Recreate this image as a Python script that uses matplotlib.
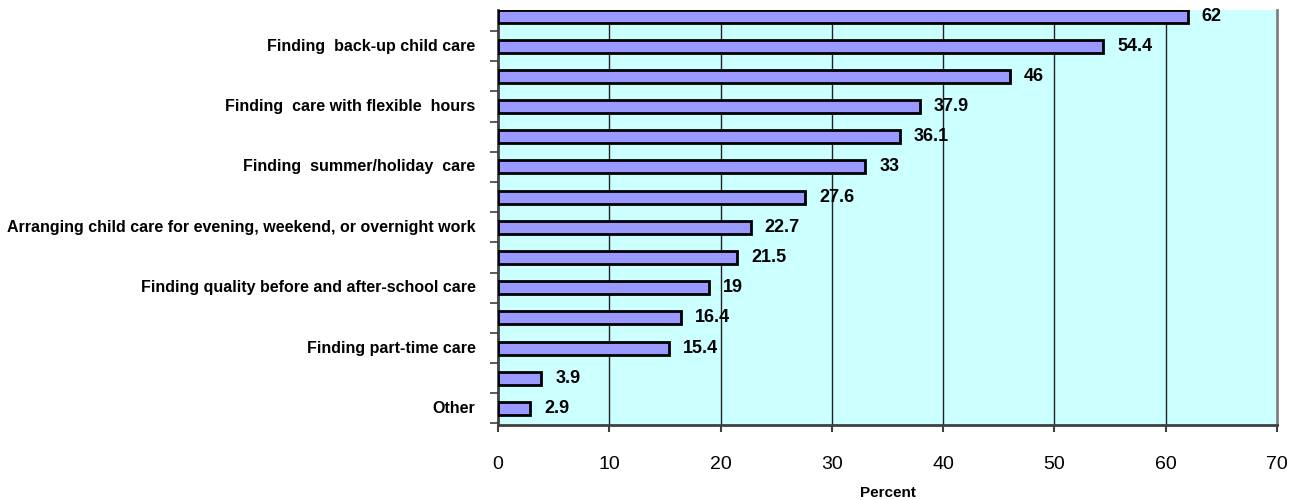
import matplotlib
matplotlib.use("Agg")
import matplotlib.pyplot as plt
import numpy as np

# data, bottom to top
labels = ["Other", "", "Finding part-time care", "",
          "Finding quality before and after-school care", "",
          "Arranging child care for evening, weekend, or overnight work", "",
          "Finding  summer/holiday  care", "",
          "Finding  care with flexible  hours", "",
          "Finding  back-up child care", ""]
values = [2.9, 3.9, 15.4, 16.4, 19, 21.5, 22.7, 27.6, 33, 36.1, 37.9, 46, 54.4, 62]
value_text = ["2.9", "3.9", "15.4", "16.4", "19", "21.5", "22.7", "27.6", "33",
              "36.1", "37.9", "46", "54.4", "62"]
x_ticks = [0, 10, 20, 30, 40, 50, 60, 70]

plt.rcParams['font.family'] = ['Liberation Sans', 'DejaVu Sans']

fig = plt.figure(figsize=(13.03, 5.0), dpi=100)
ax = fig.add_axes([498 / 1303, 75 / 500, 779 / 1303, 415 / 500])
ax.set_facecolor('#CCFFFF')

pos = np.arange(len(values))
ax.barh(pos, values, height=0.43, color='#9999FF', edgecolor='black',
        linewidth=2, zorder=3)

for p, v, t in zip(pos, values, value_text):
    ax.annotate(t, (v, p), xytext=(10, 0), textcoords='offset points',
                va='center', ha='left', fontsize=13, fontweight='bold', zorder=4)

ax.set_xlim(0, 70)
ax.set_ylim(-0.55, 13.2)
ax.set_xticks(x_ticks)
ax.set_xticklabels([str(t) for t in x_ticks], fontsize=14)
ax.tick_params(axis='x', length=5, width=1.5, color='#404040', pad=17)

# category boundaries get the tick marks, labels sit on the bars
ax.set_yticks(np.arange(-0.5, 13.5, 1.0))
ax.set_yticklabels([])
ax.tick_params(axis='y', length=6, width=1.2, color='#404040')
for p, lab in zip(pos, labels):
    if lab:
        ax.text(-0.029, p, lab, transform=ax.get_yaxis_transform(),
                ha='right', va='center', fontsize=11.5, fontweight='bold',
                family=['Liberation Sans Narrow', 'Liberation Sans'])

for x in x_ticks[1:-1]:
    ax.axvline(x, color='#222222', linewidth=1.0, zorder=1)

ax.spines['top'].set_visible(False)
ax.spines['right'].set_color('#808080')
ax.spines['right'].set_linewidth(2)
ax.spines['bottom'].set_color('#404040')
ax.spines['bottom'].set_linewidth(2)
ax.spines['left'].set_color('#404040')
ax.spines['left'].set_linewidth(2)

ax.set_xlabel("Percent", fontsize=11, fontweight='bold', labelpad=10)

fig.savefig("out.png", dpi=100)
